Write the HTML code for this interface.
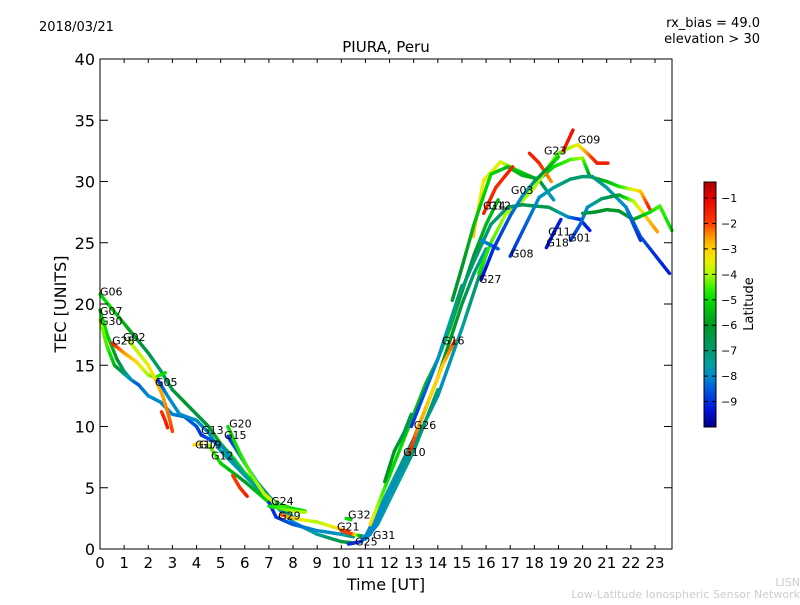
<!DOCTYPE html>
<html><head><meta charset="utf-8"><style>
body{margin:0;background:#fff;}
svg text{font-family:"DejaVu Sans","Liberation Sans",sans-serif;}
</style></head><body>
<svg id="chart" width="800" height="600" xmlns="http://www.w3.org/2000/svg">
<rect width="800" height="600" fill="#fff"/>
<text x="39" y="31" font-size="13">2018/03/21</text>
<text x="760" y="27" font-size="13" text-anchor="end">rx_bias = 49.0</text>
<text x="760" y="43" font-size="13" text-anchor="end">elevation &gt; 30</text>
<text x="386" y="52" font-size="15" text-anchor="middle">PIURA, Peru</text>
<text x="66" y="304" font-size="16" text-anchor="middle" transform="rotate(-90 66 304)">TEC [UNITS]</text>
<text x="386" y="590" font-size="16" text-anchor="middle">Time [UT]</text>
<text x="753" y="304" font-size="13" text-anchor="middle" transform="rotate(-90 753 304)">Latitude</text>
<text x="800" y="586" font-size="11" fill="#ccc" text-anchor="end">LISN</text>
<text x="800" y="598" font-size="11" fill="#ccc" text-anchor="end">Low-Latitude Ionospheric Sensor Network</text>
<defs><linearGradient id="cmap" x1="0" y1="1" x2="0" y2="0"></linearGradient></defs>
<g id="marks"></g>
<g id="axes"></g>
</svg>
<script>
const xTicks=[0,1,2,3,4,5,6,7,8,9,10,11,12,13,14,15,16,17,18,19,20,21,22,23];
const yTicks=[0,5,10,15,20,25,30,35,40];
const cbTicks=[-1,-2,-3,-4,-5,-6,-7,-8,-9];
const tracks=[
{h:[0,0.5,1,1.5,2,2.5,3,3.5,4,4.5,5,5.5,6,6.5,7,7.5,8,8.5],v:[20.8,19.6,18.4,17.2,16,14.6,13,12,11,10,8.6,7.5,6.2,5.2,4.2,3.6,3.3,3.1],lat:[-5,-5,-5.5,-6,-6.5,-7,-6.5,-6,-6.5,-6,-5.5,-5,-5,-5,-4.5,-4.5,-5,-5]},
{h:[0,0.3,0.7,1,1.3,1.6,2,2.5,3,3.5,4,4.2],v:[19.5,17.5,15.5,14.5,13.8,13.4,12.5,12,11,10.8,10,9.3],lat:[-5,-5,-6,-7,-8,-8.5,-8,-8,-8,-8.5,-8.5,-9]},
{h:[0,0.3,0.6,1,1.3],v:[18.7,16.5,15,14.3,13.8],lat:[-4,-4.5,-5.5,-7,-8]},
{h:[0.5,1,1.5,2,2.3,2.7],v:[16.8,16,15.3,14.2,14,14.4],lat:[-1.5,-2.5,-3,-4,-4.5,-5]},
{h:[1.2,1.6,2,2.3,2.6,2.9,3],v:[17,16,15,13.8,12.5,10.5,9.6],lat:[-4,-3.8,-3.5,-3,-2.6,-2.2,-2]},
{h:[2.4,2.8,3.3,4,4.5,5,6,7,8,9,10,10.5],v:[13.8,12.5,11,10.5,9.5,8,6,4,2.2,1.2,0.6,0.5],lat:[-9,-8,-8,-8,-8,-7.5,-7.5,-8,-8,-7.5,-6.5,-6]},
{h:[2.55,2.7,2.8],v:[11.2,10.5,9.9],lat:[-1.8,-1.6,-1.5]},
{h:[4.2,4.6,5,6,7,8],v:[9.3,8.9,8.5,6,4,2.6],lat:[-9,-8.5,-8,-7.5,-7.5,-7]},
{h:[3.9,4.2],v:[8.5,8.6],lat:[-3,-3.2]},
{h:[4.5,5,6,7,7.5],v:[8.5,7,5.5,3.8,3.3],lat:[-4,-5,-6,-5,-4.5]},
{h:[5.3,6,6.5,7,7.3],v:[9.2,7,5.5,4.3,3.7],lat:[-9,-8,-7.5,-7,-8]},
{h:[5.3,5.8,6.3,6.8,7.2],v:[10,7.8,6,4.5,3.8],lat:[-5,-4.8,-4.3,-3.8,-3.5]},
{h:[5.5,5.8,6.1],v:[6,5,4.3],lat:[-2,-1.8,-1.5]},
{h:[7,7.3,8,9,10,10.5],v:[3.8,2.6,2,1.5,1.2,1],lat:[-9,-9,-8.5,-8,-7.8,-7]},
{h:[7.5,8,9,10,10.3],v:[2.8,2.5,2.2,1.6,1.4],lat:[-2,-3,-4,-3,-2]},
{h:[7,7.5,8,8.5],v:[3.5,3.3,3.1,3.0],lat:[-5,-4.5,-4,-4]},
{h:[10,10.5,11,11.5,12,12.5,13,13.5,14,14.5,15,15.5,16],v:[1.5,1.2,1.0,3,5,7,9,11.5,14,17,20,22.5,24.5],lat:[-2,-2,-8,-8,-7.5,-7,-7,-6.5,-6,-6,-6.5,-7,-7.5]},
{h:[10.3,10.8,11.2,12,13,14,15,15.5,16],v:[0.4,0.6,1.2,4.5,8.5,12.5,18,21,24],lat:[-9,-9,-8,-8,-8,-8,-7.5,-7,-7]},
{h:[10.2,10.4],v:[2.5,2.4],lat:[-5,-5]},
{h:[11.2,11.5,12,12.5,13,13.5,14,14.5,15,15.5,16,16.5],v:[2,3.5,6,8.5,11,13.5,15.5,18,21,24,26.5,28.5],lat:[-3,-4,-5,-5,-5.5,-5.5,-5,-5.5,-6,-6,-5.5,-5.5]},
{h:[11.8,12.2,12.6,12.9],v:[5.5,8,9.5,11],lat:[-6,-6,-6.5,-6.5]},
{h:[11,11.5,12,12.5,13,13.5,14],v:[0.8,2,4,6,8,10.5,13],lat:[-8,-8,-7.5,-7.5,-7,-7,-7]},
{h:[12.8,13.2,13.7,14.2,14.7],v:[7.8,10,12.5,15,17],lat:[-1.5,-2.5,-3,-3,-2]},
{h:[12.9,13.5,14,14.5,15],v:[10,13,15.5,18.5,21.5],lat:[-9,-8.5,-8,-7.5,-7]},
{h:[15.46,15.9,16.6,17.3,18.2,18.8],v:[25.5,30.1,31.6,30.9,30.1,28.5],lat:[-2.8,-3.5,-3.5,-5,-6,-8]},
{h:[14.6,15,15.5,16.2,16.9,17.5,18.2,18.8,19.5,20,20.3,21,21.5,22.4,22.8],v:[20.3,23,26.5,30.6,31.2,30.5,30.2,31.2,31.8,31.9,30.4,30,29.6,29.2,27.7],lat:[-6,-6,-5.5,-5,-5.5,-5.5,-5.8,-5,-4.5,-4,-6,-5.5,-5,-3,-1.5]},
{h:[15.9,16.4,17.1],v:[27.4,29.5,31.2],lat:[-1.5,-1.7,-1.5]},
{h:[17.8,18.2,18.7],v:[32.3,31.5,30],lat:[-1.5,-1.6,-2.5]},
{h:[15.7,16.2,16.8,17.4,18,18.5,19,19.5,19.8,20.2,20.6,21.05],v:[22.5,25,27.3,28.2,29.5,31,32.3,32.8,33,32.3,31.5,31.5],lat:[-5,-4.5,-4,-4,-4,-4,-4.5,-4,-3.5,-2.5,-1.5,-1.5]},
{h:[19.2,19.6],v:[32.5,34.2],lat:[-1.5,-1.3]},
{h:[14.8,15.5,16.2,16.9,17.5,18,18.6,19.4,19.9,20.3],v:[20.3,23.5,26.5,27.9,28.1,28,27.9,27.1,26.9,26],lat:[-7,-7,-7,-7,-6.5,-6.5,-6.5,-8,-9,-9.2]},
{h:[15.8,16.2,16.5],v:[25.2,24.8,24.5],lat:[-8,-8.2,-8.5]},
{h:[15.8,16.3,17,17.5,18,18.5,19],v:[22,24.5,27.2,28.8,30,31,32],lat:[-9.5,-9,-8.5,-8,-7,-6,-5]},
{h:[17,17.6,18.2,18.8,19.5,20,20.4,21,21.8,22.4,23,23.6],v:[23.9,26.3,28.7,29.5,30.2,30.4,30.4,29.5,27.9,25.5,24,22.5],lat:[-9,-8.5,-8,-7.5,-7,-7,-7,-7.5,-8,-8.5,-9,-9.2]},
{h:[18.5,18.8,19.1],v:[24.6,25.8,26.9],lat:[-9.5,-9.3,-9.2]},
{h:[19.5,19.9,20.2,20.8,21.5,22.1,22.6,23.1],v:[25.2,26.5,27.9,28.6,28.9,28.4,27.2,25.9],lat:[-9,-8.5,-8,-7,-6,-4,-3,-2.5]},
{h:[20,20.5,21,21.5,22.1,22.8,23.2,23.7],v:[27.4,27.5,27.7,27.6,26.9,27.5,28,26],lat:[-7,-6,-6,-6,-6,-5,-4.5,-5]},
{h:[21.8,22.1,22.4],v:[27.9,26.5,25.2],lat:[-8,-8.5,-9]}
];
const labelNames=["G06","G07","G30","G28","G02","G05","G13","G17","G19","G20","G15","G12","G24","G29","G32","G21","G25","G31","G10","G26","G16","G27","G14","G12","G03","G08","G23","G09","G11","G18","G01"];
const labelH=[0,0,0,0.5,0.95,2.28,4.19,3.94,4.1,5.35,5.14,4.6,7.09,7.38,10.28,9.82,10.57,11.31,12.56,13.0,14.17,15.7,15.87,16.1,17.03,17.03,18.4,19.8,18.57,18.5,19.4];
const labelV=[20.7,19.1,18.3,16.7,17.0,13.3,9.4,8.2,8.2,9.9,9.0,7.3,3.6,2.4,2.5,1.5,0.3,0.8,7.6,9.8,16.7,21.7,27.7,27.7,29.0,23.8,32.2,33.1,25.6,24.7,25.1];
const X0=100,X1=672,Y0=549,Y1=59;
const px=h=>X0+h*24.13, py=v=>Y0-v*(Y0-Y1)/40;
const cbTop=182,cbBot=427,latMin=-10,latMax=-0.37;
const cy=l=>cbBot-(l-latMin)/(latMax-latMin)*(cbBot-cbTop);
const NS="http://www.w3.org/2000/svg";
const CM=[[-10,[0,0,140]],[-9.3,[0,20,220]],[-8.5,[0,90,220]],[-8,[0,140,200]],[-7.5,[0,160,160]],[-7,[0,155,110]],[-6,[0,150,40]],[-5,[0,220,0]],[-4.5,[60,240,0]],[-4,[170,250,0]],[-3.5,[230,240,0]],[-3,[255,210,0]],[-2.5,[255,150,0]],[-2,[255,60,0]],[-1,[230,0,0]],[-0.37,[170,0,0]]];
function cmap(l){
  if(l<=CM[0][0])return `rgb(${CM[0][1]})`;
  for(let i=0;i<CM.length-1;i++){const a=CM[i],b=CM[i+1];if(l<=b[0]){const t=(l-a[0])/(b[0]-a[0]);return 'rgb('+a[1].map((c,k)=>Math.round(c+(b[1][k]-c)*t)).join(',')+')';}}
  return `rgb(${CM[CM.length-1][1]})`;
}
const grad=document.getElementById('cmap');
CM.forEach(s=>{const st=document.createElementNS(NS,'stop');st.setAttribute('offset',(s[0]-latMin)/(latMax-latMin));st.setAttribute('stop-color',cmap(s[0]));grad.appendChild(st);});
const marks=document.getElementById('marks'),axes=document.getElementById('axes');
function mk(tag,attrs,parent){const e=document.createElementNS(NS,tag);for(const k in attrs)e.setAttribute(k,attrs[k]);parent.appendChild(e);return e;}
tracks.forEach((tr,ti)=>{
  const g=mk('g',{},marks);
  
  
  for(let i=0;i<tr.h.length-1;i++){
    const n=6;
    for(let k=0;k<n;k++){
      const a=k/n,b=(k+1)/n;
      const h1=tr.h[i]+(tr.h[i+1]-tr.h[i])*a,h2=tr.h[i]+(tr.h[i+1]-tr.h[i])*b;
      const v1=tr.v[i]+(tr.v[i+1]-tr.v[i])*a,v2=tr.v[i]+(tr.v[i+1]-tr.v[i])*b;
      const l=tr.lat[i]+(tr.lat[i+1]-tr.lat[i])*(a+b)/2;
      const s=mk('line',{x1:px(h1),y1:py(v1),x2:px(h2),y2:py(v2),stroke:cmap(l),'stroke-width':3.4,'stroke-linecap':'round'},g);
      
      
    }
  }
});
labelNames.forEach((n,i)=>{
  const t=mk('text',{x:px(labelH[i]),y:py(labelV[i]),'font-size':11},marks);
  t.textContent=n;
  
  
});
const frame=mk('rect',{x:X0,y:Y1,width:X1-X0,height:Y0-Y1,fill:'none',stroke:'#000','stroke-width':1},axes);


xTicks.forEach(v=>{
  const x=px(v);
  mk('line',{x1:x,y1:Y0,x2:x,y2:Y0-4,stroke:'#000'},axes);
  mk('line',{x1:x,y1:Y1,x2:x,y2:Y1+4,stroke:'#000'},axes);
  const t=mk('text',{x:x,y:Y0+19,'font-size':15,'text-anchor':'middle'},axes);
  t.textContent=v;
  
  
});
yTicks.forEach(v=>{
  const y=py(v);
  mk('line',{x1:X0,y1:y,x2:X0+8,y2:y,stroke:'#000'},axes);
  mk('line',{x1:X1,y1:y,x2:X1-8,y2:y,stroke:'#000'},axes);
  const t=mk('text',{x:X0-5,y:y+6,'font-size':16,'text-anchor':'end'},axes);
  t.textContent=v;
  
  
});
const cb=mk('rect',{x:704,y:cbTop,width:12,height:cbBot-cbTop,fill:'url(#cmap)',stroke:'#000','stroke-width':1},axes);


cbTicks.forEach(v=>{
  const y=cy(v);
  mk('line',{x1:704,y1:y,x2:708,y2:y,stroke:'#000'},axes);
  mk('line',{x1:716,y1:y,x2:712,y2:y,stroke:'#000'},axes);
  const t=mk('text',{x:721,y:y+4,'font-size':11},axes);
  t.textContent='\u2212'+Math.abs(v);
  
  
});
</script>
</body></html>
